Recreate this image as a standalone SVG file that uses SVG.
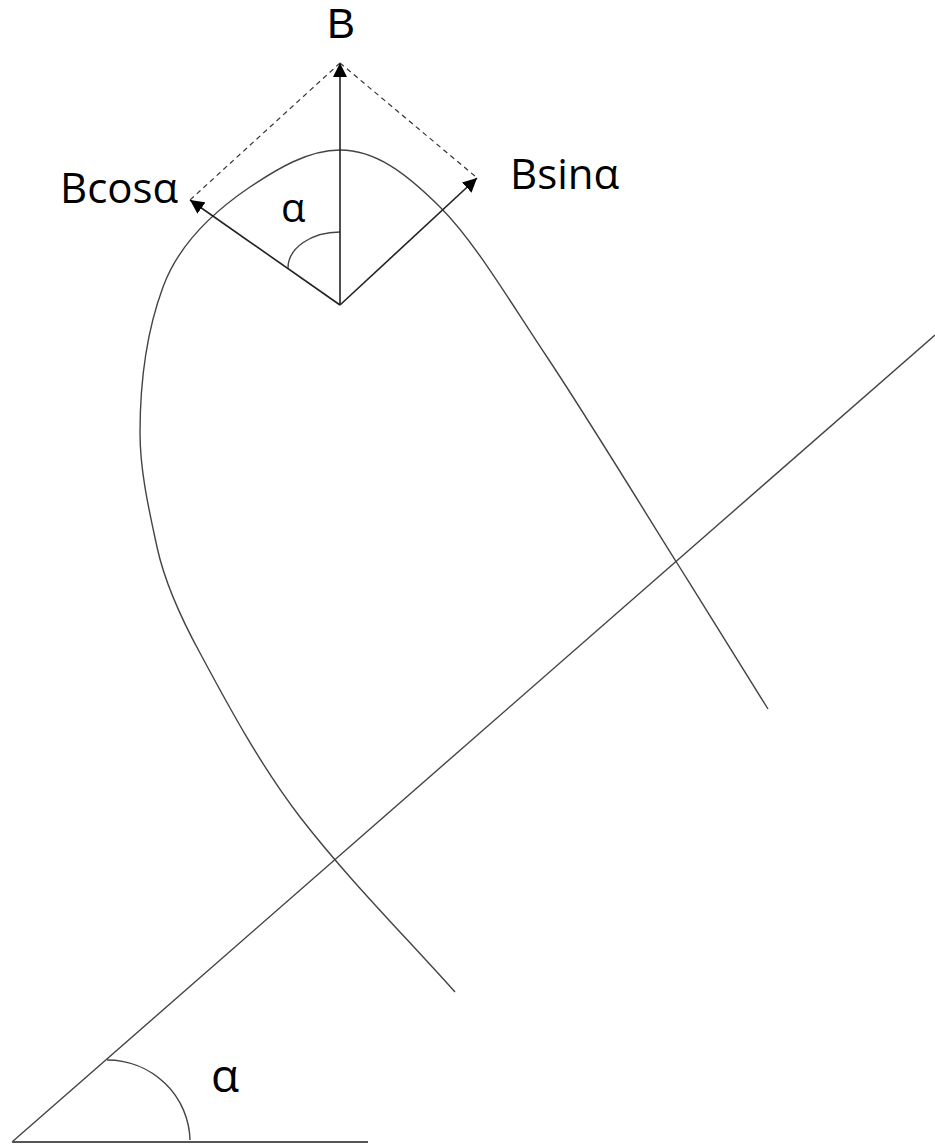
<svg xmlns="http://www.w3.org/2000/svg" width="935" height="1145" viewBox="0 0 935 1145">
<defs>
<marker id="ah" viewBox="0 0 10 10" refX="10" refY="5" markerWidth="14" markerHeight="14" markerUnits="userSpaceOnUse" orient="auto">
<path d="M0,0 L10,5 L0,10 Z" fill="#000"/>
</marker>
<style>
.t{font-family:"Open Sans","Liberation Sans",sans-serif;fill:#000;font-size:42px}
.ln{fill:none;stroke:#444;stroke-width:1.4}
.ar{fill:none;stroke:#222;stroke-width:1.6}
.ds{fill:none;stroke:#333;stroke-width:1.2;stroke-dasharray:5,4}
</style>
</defs>
<rect width="935" height="1145" fill="#fff"/>
<g id="curve">
<path class="ln" d="M455,992 C403,934 348,879 300,817 C261,766 230,709 200,653 C182,620 165,584 157,547 C149,510 140,471 140,433 C140,384 146,333 163,287 C178,246 213,212 250,187 C277,169 308,150 340,150 C375,150 405.5,172.5 440,207 C474.5,241.5 507.5,297.7 547,357 C586.5,416.3 640.2,504.3 677,563 C713.8,621.7 752.8,684.7 768,709"/>
</g>
<g id="axes">
<line class="ln" x1="12" y1="1142" x2="935" y2="335" stroke="#555"/>
<line x1="12" y1="1142" x2="368" y2="1142" stroke="#555" stroke-width="2.2"/>
<path class="ln" d="M107,1060 A83,82 0 0 1 190,1140"/>
<path class="ln" d="M340,232 A52,36 0 0 0 288,268"/>
</g>
<g id="connectors">
<line class="ar" x1="340" y1="305" x2="340" y2="63" marker-end="url(#ah)"/>
<line class="ar" x1="340" y1="305" x2="190" y2="200" marker-end="url(#ah)"/>
<line class="ar" x1="340" y1="305" x2="477" y2="178" marker-end="url(#ah)"/>
<line class="ds" x1="340" y1="63" x2="190" y2="200"/>
<line class="ds" x1="340" y1="63" x2="476" y2="177"/>
</g>
<g id="labels">
<text class="t" x="341" y="38" text-anchor="middle" style="font-family:'Liberation Sans',sans-serif">B</text>
<text class="t" x="60" y="203">Bcosα</text>
<text class="t" x="510" y="189">Bsinα</text>
<text class="t" x="281" y="222" style="font-size:40px">α</text>
<text class="t" x="211" y="1092" style="font-size:46px">α</text>
</g>
</svg>
